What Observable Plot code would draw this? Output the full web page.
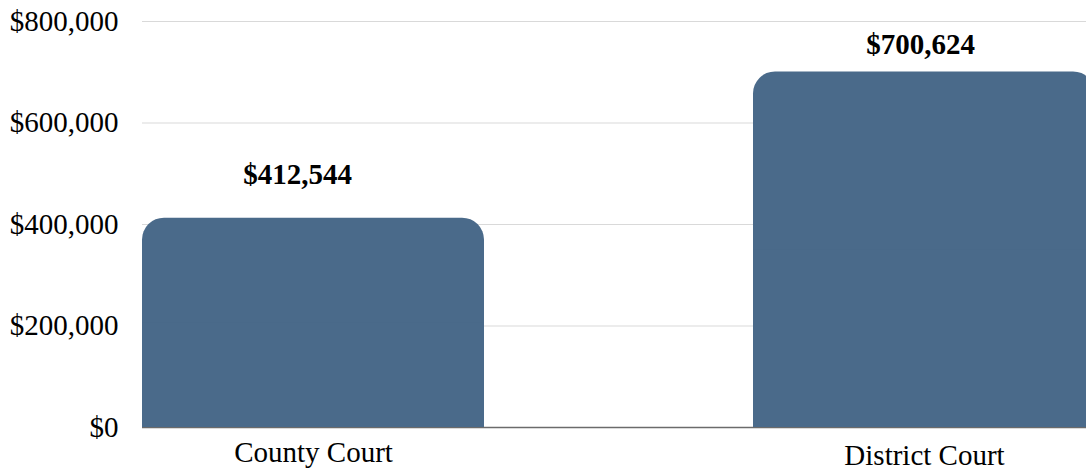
<!DOCTYPE html>
<html>
<head>
<meta charset="utf-8">
<script src="https://cdn.jsdelivr.net/npm/d3@7"></script>
<script src="https://cdn.jsdelivr.net/npm/@observablehq/plot@0.6"></script>
<style>
  html, body { margin: 0; padding: 0; background: #ffffff; overflow: hidden; }
</style>
</head>
<body>
<div id="chart"></div>
<script>
const courts = ["County Court", "District Court"];
const amounts = [412544, 700624];
const yTicks = [0, 200000, 400000, 600000, 800000];

const data = courts.map((c, i) => ({court: c, amount: amounts[i]}));
const money = d => "$" + d3.format(",")(d);
const barColor = "#4a6a8a";

const valueLabel = (rows, dx) => Plot.text(rows, {
  x: "court",
  y: d => Math.min(d.amount + 85000, 755000),
  text: d => money(d.amount),
  fontWeight: "bold",
  fontSize: 29,
  fill: "#000",
  dx
});

const chart = Plot.plot({
  width: 1086,
  height: 472,
  marginLeft: 142,
  marginRight: 0,
  marginTop: 21,
  marginBottom: 45,
  style: {fontFamily: "'Liberation Serif', 'Times New Roman', serif", fontSize: "29px", color: "#000", background: "#fff", overflow: "hidden"},
  x: {domain: courts, range: [142, 1096], paddingInner: 0.44, paddingOuter: 0, align: 0.5, label: null},
  y: {domain: [0, 800000], label: null},
  marks: [
    Plot.ruleY(yTicks.filter(d => d > 0), {stroke: "#d9d9d9", strokeWidth: 1}),
    Plot.ruleY([0], {stroke: "#6b6b6b", strokeWidth: 1.3}),
    Plot.barY(data, {x: "court", y: "amount", fill: barColor, rx: 22}),
    Plot.barY(data, {x: "court", y1: 0, y2: d => d.amount / 2, fill: barColor}),
    Plot.axisY({ticks: yTicks, tickFormat: money, tickSize: 0, tickPadding: 24, fontSize: 29, label: null}),
    Plot.axisX({ticks: [courts[0]], tickSize: 0, tickPadding: 14, fontSize: 29, label: null}),
    Plot.axisX({ticks: [courts[1]], tickSize: 0, tickPadding: 17, fontSize: 29, label: null}),
    valueLabel([data[0]], -16),
    valueLabel([data[1]], -4)
  ]
});
document.getElementById("chart").appendChild(chart);
</script>
</body>
</html>
